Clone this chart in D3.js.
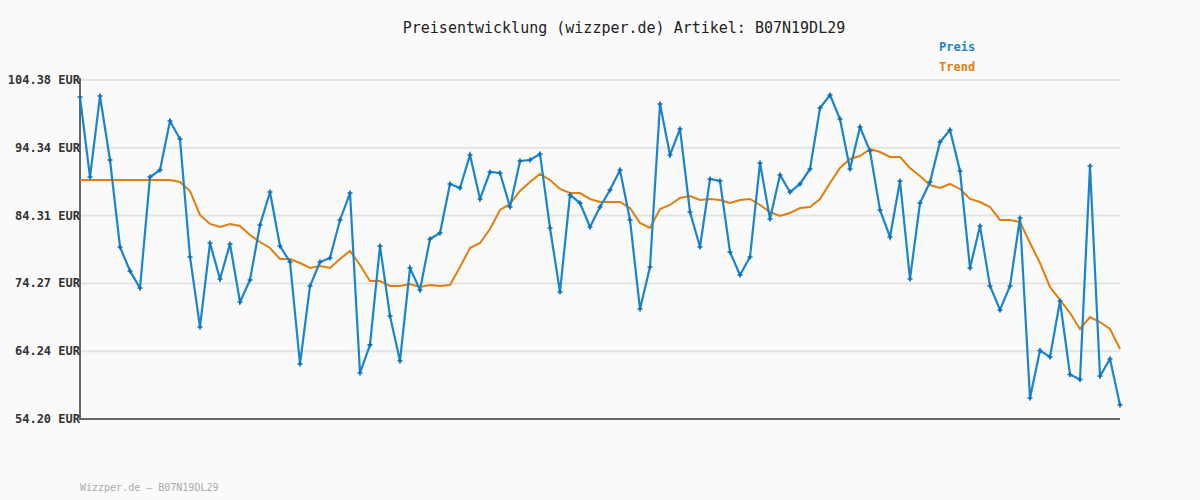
<!DOCTYPE html>
<html><head><meta charset="utf-8">
<script src="https://cdn.jsdelivr.net/npm/d3@7"></script>
<style>body{margin:0;background:#fafafa;}</style>
</head><body>
<script>
// Chart data
const yTicks = [54.20, 64.24, 74.27, 84.31, 94.34, 104.38];
const preis = [101.86,90.02,102.01,92.54,79.66,76.11,73.59,90.02,91.06,98.31,
  95.65,78.18,67.82,80.25,74.92,80.10,71.52,74.78,82.92,87.80,
  79.81,77.44,62.34,73.89,77.44,78.03,83.66,87.65,61.01,65.16,
  79.81,69.45,62.79,76.55,73.30,80.84,81.73,88.99,88.39,93.28,
  86.77,90.76,90.61,85.58,92.39,92.54,93.43,82.47,73.00,87.36,
  86.17,82.62,85.58,88.10,91.06,83.66,70.48,76.70,100.83,93.28,
  97.13,84.84,79.66,89.73,89.43,78.92,75.52,78.18,92.09,83.81,
  90.32,87.80,88.99,91.21,100.24,102.16,98.61,91.21,97.42,93.87,
  85.14,81.14,89.43,74.92,86.17,89.28,95.20,96.98,90.91,76.55,
  82.77,73.89,70.34,73.89,83.95,57.31,64.34,63.38,71.67,60.79,
  60.05,91.65,60.57,63.08,56.27];
const trend = [89.58,89.58,89.58,89.58,89.58,89.58,89.58,89.58,89.58,89.58,
  89.28,87.95,84.40,83.07,82.62,83.07,82.77,81.44,80.40,79.51,
  77.88,77.88,77.29,76.55,76.85,76.55,77.88,79.07,76.99,74.63,
  74.63,73.89,73.89,74.18,73.74,74.04,73.89,74.04,76.70,79.51,
  80.25,82.32,85.14,86.03,87.95,89.28,90.47,89.58,88.25,87.65,
  87.65,86.77,86.32,86.32,86.32,85.43,83.21,82.47,85.29,85.88,
  86.91,87.21,86.62,86.77,86.62,86.17,86.62,86.77,85.88,84.84,
  84.25,84.69,85.43,85.58,86.77,89.13,91.35,92.69,93.13,94.17,
  93.72,92.98,92.98,91.35,90.17,88.84,88.39,88.99,88.25,86.77,
  86.32,85.58,83.66,83.66,83.36,80.25,77.29,73.74,71.82,69.89,
  67.52,69.30,68.56,67.52,64.56];

const W = 1200, H = 500;
const margin = { top: 80, right: 80, bottom: 81, left: 80 };
const svg = d3.select("body").append("svg").attr("width", W).attr("height", H)
  .style("font-family", "'DejaVu Sans Mono', monospace");

const x = d3.scaleLinear().domain([0, preis.length - 1]).range([margin.left, W - margin.right]);
const y = d3.scaleLinear().domain([54.20, 104.38]).range([H - margin.bottom, margin.top]);

// grid lines
svg.append("g").selectAll("line").data(yTicks.slice(1)).enter().append("line")
  .attr("x1", margin.left).attr("x2", W - margin.right)
  .attr("y1", d => y(d)).attr("y2", d => y(d))
  .attr("stroke", "#e3e3e3").attr("stroke-width", 2);

// axes
svg.append("line").attr("x1", margin.left).attr("x2", margin.left)
  .attr("y1", margin.top - 2).attr("y2", y(54.20)).attr("stroke", "#666").attr("stroke-width", 2);
svg.append("line").attr("x1", margin.left - 1).attr("x2", W - margin.right)
  .attr("y1", y(54.20)).attr("y2", y(54.20)).attr("stroke", "#666").attr("stroke-width", 2);

// y labels
svg.append("g").selectAll("text").data(yTicks).enter().append("text")
  .attr("x", 80).attr("y", d => y(d) + 4).attr("text-anchor", "end")
  .attr("font-size", 12).attr("font-weight", "bold").attr("fill", "#333")
  .text(d => d.toFixed(2) + " EUR");

const line = d3.line().x((d, i) => x(i)).y(d => y(d));

svg.append("path").datum(trend).attr("d", line)
  .attr("fill", "none").attr("stroke", "#e07f10").attr("stroke-width", 2);
svg.append("path").datum(preis).attr("d", line)
  .attr("fill", "none").attr("stroke", "#1a84cc").attr("stroke-width", 2.2);

// markers
svg.append("g").selectAll("path").data(preis).enter().append("path")
  .attr("d", d3.symbol(d3.symbolCross, 14))
  .attr("transform", (d, i) => `translate(${x(i)},${y(d)})`)
  .attr("fill", "#0a6fb8");

// title + legend
svg.append("text").attr("x", 624).attr("y", 33).attr("text-anchor", "middle")
  .attr("font-size", 15).attr("fill", "#222").text("Preisentwicklung (wizzper.de) Artikel: B07N19DL29");
svg.append("text").attr("x", 939).attr("y", 51).attr("font-size", 12).attr("font-weight", "bold")
  .attr("fill", "#1a84cc").text("Preis");
svg.append("text").attr("x", 939).attr("y", 71).attr("font-size", 12).attr("font-weight", "bold")
  .attr("fill", "#e07f10").text("Trend");

svg.append("text").attr("x", 80).attr("y", 491).attr("font-size", 10).attr("fill", "#aaa")
  .text("Wizzper.de – B07N19DL29");
</script>
</body></html>
